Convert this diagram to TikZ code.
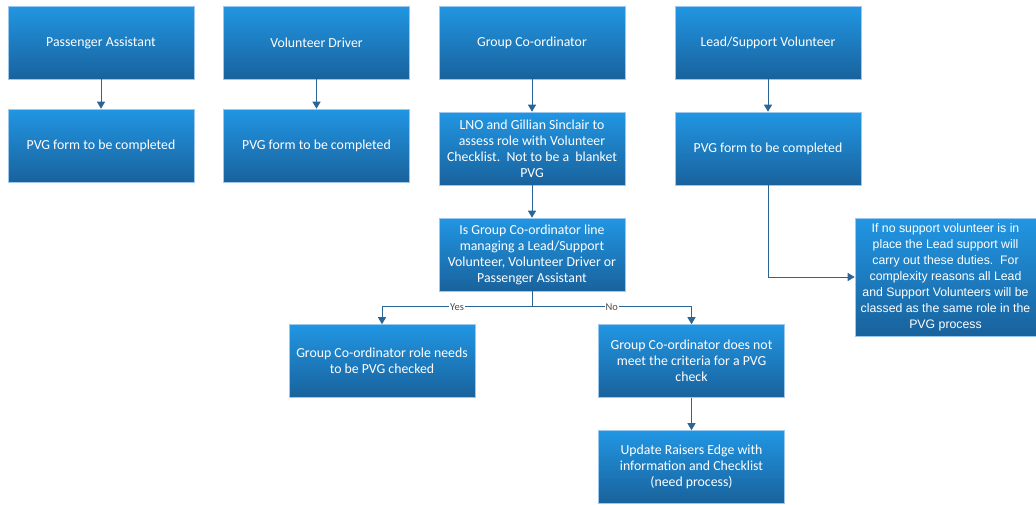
\documentclass[tikz,border=0pt]{standalone}
\usepackage{fontspec}
\setmainfont{Carlito}
\newfontfamily\notefont{Liberation Sans}
\usetikzlibrary{arrows.meta}
\definecolor{boxtop}{HTML}{2196E3}
\definecolor{boxbot}{HTML}{19629C}
\definecolor{boxedge}{HTML}{9CC8EE}
\definecolor{conn}{HTML}{2B6594}
\tikzset{
  box/.style={rectangle, top color=boxtop, bottom color=boxbot, draw=boxedge, line width=0.6pt,
    minimum width=186pt, minimum height=73pt, inner sep=2pt, text=white, align=center,
    font=\fontsize{13.8}{16}\selectfont},
  notebox/.style={box, minimum width=181pt, minimum height=118pt, font=\notefont\fontsize{12.3}{16}\selectfont},
  conn/.style={draw=conn, line width=1pt, -{Triangle[width=8pt,length=7pt]}},
  lbl/.style={fill=white, inner sep=1pt, text=black!70, font=\fontsize{10.5}{11}\selectfont}
}
\begin{document}
\begin{tikzpicture}[x=1pt,y=-1pt]
\useasboundingbox (0,0) rectangle (1036,504);
\node[box] (pa) at (101,42.5) {Passenger Assistant};
\node[box] (vd) at (316.5,42.5) {Volunteer Driver};
\node[box] (gc) at (532,42.5) {Group Co-ordinator};
\node[box] (ls) at (768,42.5) {Lead/Support Volunteer};
\node[box] (pvg1) at (101,145.5) {PVG form to be completed};
\node[box] (pvg2) at (316.5,145.5) {PVG form to be completed};
\node[box] (lno) at (532,148.5) {LNO and Gillian Sinclair to\\assess role with Volunteer\\Checklist.\ \ Not to be a\ \ blanket\\PVG};
\node[box] (pvg4) at (768,148.5) {PVG form to be completed};
\node[box] (dec) at (532,254.5) {Is Group Co-ordinator line\\managing a Lead/Support\\Volunteer, Volunteer Driver or\\Passenger Assistant};
\node[box] (yes) at (382,361) {Group Co-ordinator role needs\\to be PVG checked};
\node[box] (no) at (691.5,361) {Group Co-ordinator does not\\meet the criteria for a PVG\\check};
\node[box] (upd) at (691.5,467) {Update Raisers Edge with\\information and Checklist\\(need process)};
\node[notebox] (note) at (945.5,277) {If no support volunteer is in\\place the Lead support will\\carry out these duties.\ \ For\\complexity reasons all Lead\\and Support Volunteers will be\\classed as the same role in the\\PVG process};
\draw[conn] (pa) -- (pvg1);
\draw[conn] (vd) -- (pvg2);
\draw[conn] (gc) -- (lno);
\draw[conn] (ls) -- (pvg4);
\draw[conn] (lno) -- (dec);
\draw[conn] (dec.south) -- ++(0,15.5) -| node[lbl, pos=0.25] {Yes} (yes.north);
\draw[conn] (dec.south) -- ++(0,15.5) -| node[lbl, pos=0.25] {No} (no.north);
\draw[conn] (no) -- (upd);
\draw[conn] (pvg4.south) |- (note.west);
\end{tikzpicture}
\end{document}
